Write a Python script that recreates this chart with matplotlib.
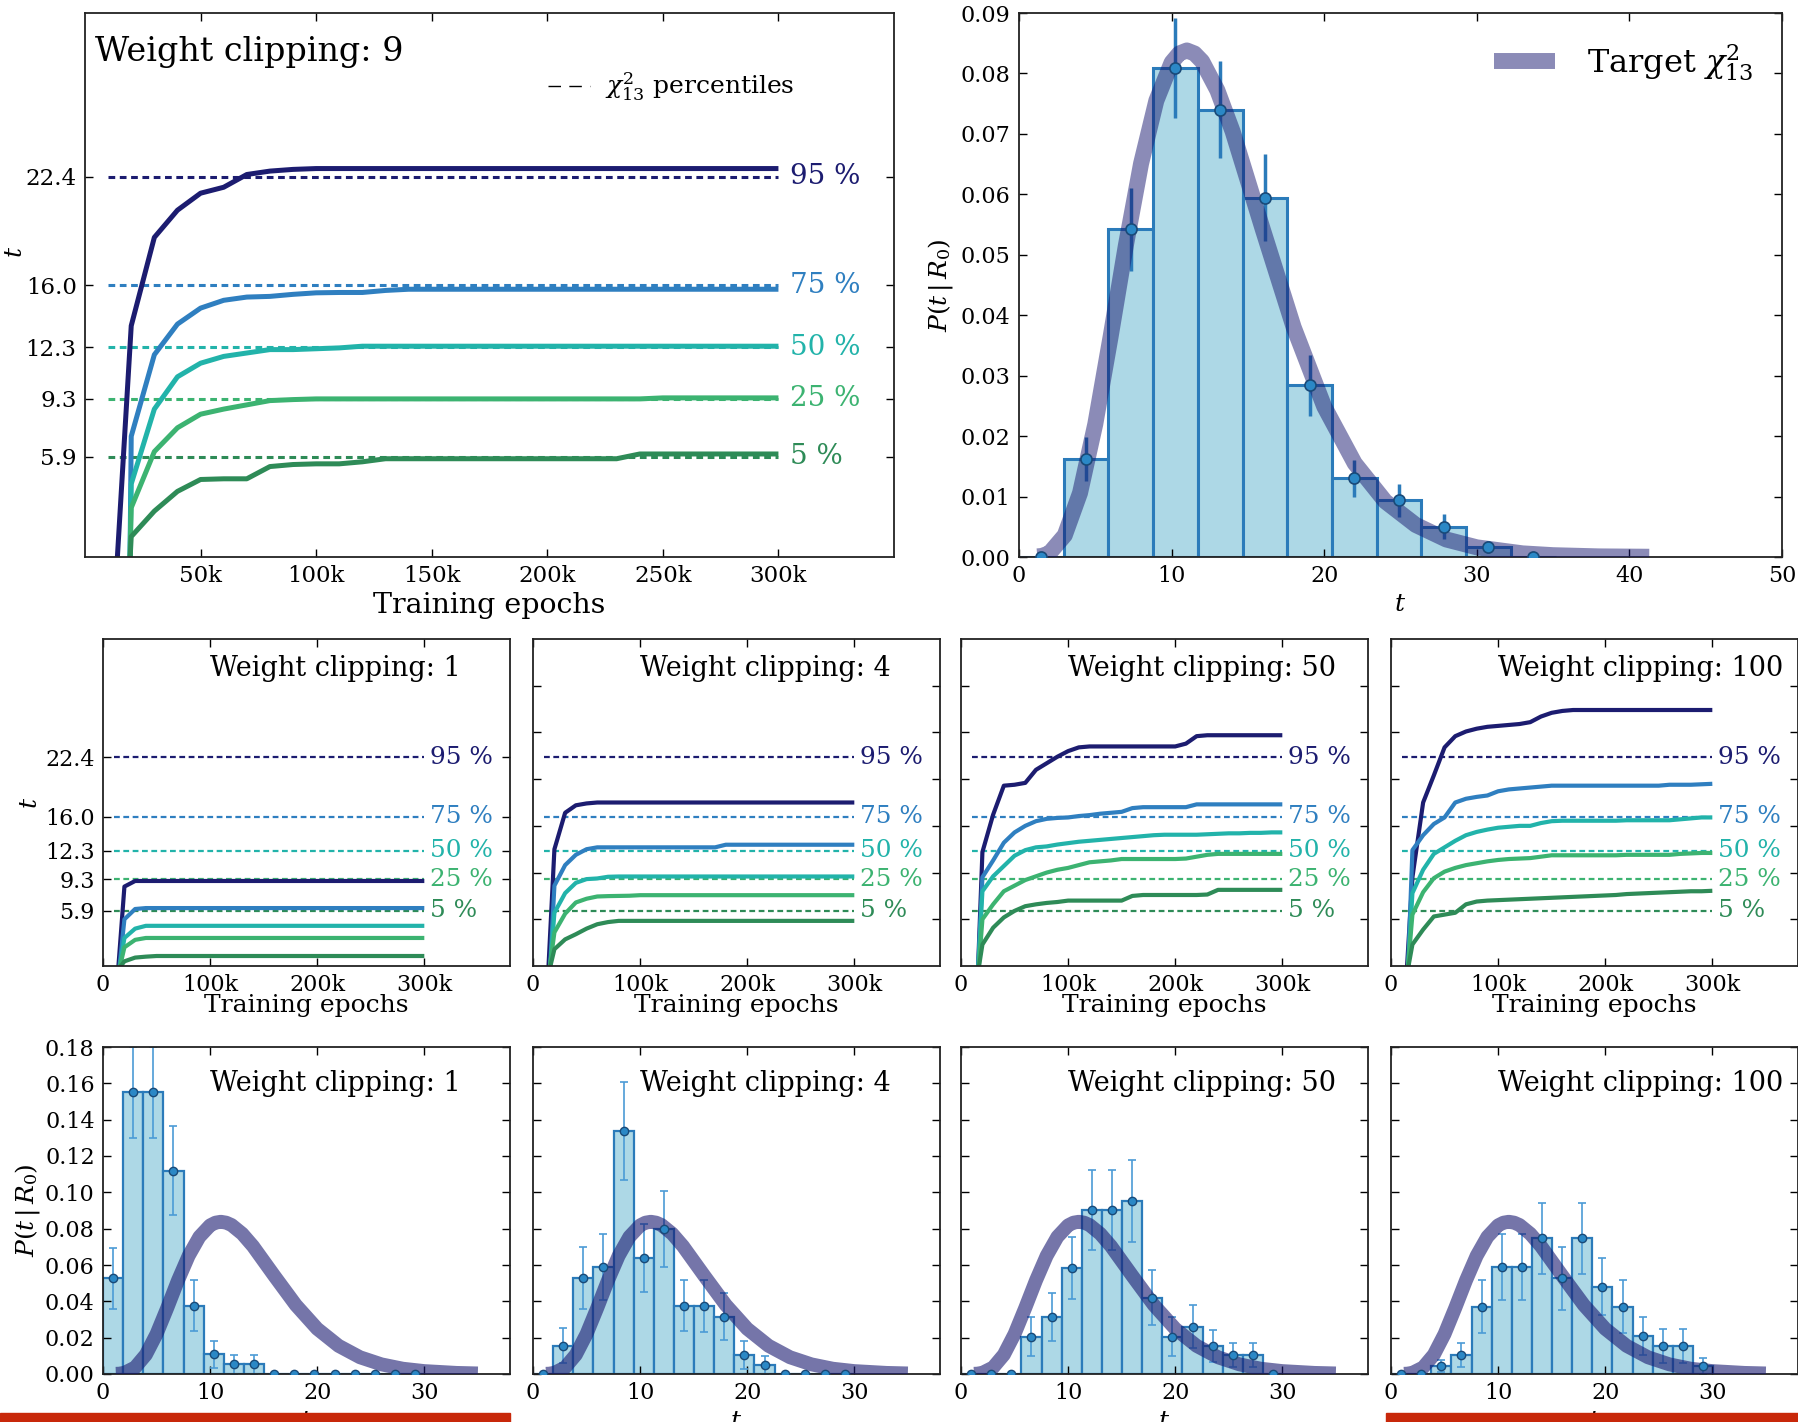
import matplotlib
matplotlib.use('Agg')
import matplotlib.pyplot as plt
from matplotlib.patches import Rectangle

plt.rcParams['font.family'] = ['DejaVu Serif']
plt.rcParams['mathtext.fontset'] = 'dejavuserif'

##### percentile evolution data (t values at each epoch, epochs in thousands) #####
EPOCHS_K = [10, 20, 30, 40, 50, 60, 70, 80, 90, 100, 110, 120, 130, 140, 150,
            160, 170, 180, 190, 200, 210, 220, 230, 240, 250, 260, 270, 280, 290, 300]

PCT_NAMES = ['95 %', '75 %', '50 %', '25 %', '5 %']
PCT_VALUES = [22.36, 15.98, 12.34, 9.30, 5.89]  # chi2_13 percentiles
PCT_COLORS = ['#1c1c70', '#2f7fc0', '#22b3aa', '#3cb371', '#2e8b57']

# weight clipping 9 (big panel)
wc9_p95 = [-9.1, 13.6, 18.8, 20.4, 21.4, 21.75, 22.5, 22.7, 22.8, 22.85, 22.85, 22.85, 22.85, 22.85, 22.85,
           22.85, 22.85, 22.85, 22.85, 22.85, 22.85, 22.85, 22.85, 22.85, 22.85, 22.85, 22.85, 22.85, 22.85, 22.85]
wc9_p75 = [-130, 7.1, 11.9, 13.7, 14.64, 15.1, 15.29, 15.33, 15.45, 15.54, 15.56, 15.56, 15.68, 15.75, 15.75,
           15.75, 15.75, 15.75, 15.75, 15.75, 15.75, 15.75, 15.75, 15.75, 15.75, 15.75, 15.75, 15.75, 15.75, 15.75]
wc9_p50 = [-80, 4.3, 8.7, 10.6, 11.4, 11.8, 12.0, 12.2, 12.2, 12.25, 12.3, 12.4, 12.4, 12.4, 12.4,
           12.4, 12.4, 12.4, 12.4, 12.4, 12.4, 12.4, 12.4, 12.4, 12.4, 12.4, 12.4, 12.4, 12.4, 12.4]
wc9_p25 = [-55, 2.9, 6.2, 7.6, 8.4, 8.7, 8.95, 9.2, 9.26, 9.3, 9.3, 9.3, 9.3, 9.3, 9.3,
           9.3, 9.3, 9.3, 9.3, 9.3, 9.3, 9.3, 9.3, 9.3, 9.36, 9.36, 9.36, 9.36, 9.36, 9.36]
wc9_p5 = [-25, 1.2, 2.7, 3.86, 4.56, 4.6, 4.6, 5.32, 5.44, 5.48, 5.48, 5.6, 5.78, 5.78, 5.78,
          5.78, 5.78, 5.78, 5.78, 5.78, 5.78, 5.78, 5.78, 6.06, 6.06, 6.06, 6.06, 6.06, 6.06, 6.06]

# weight clipping 1
wc1_p95 = [-6.7, 8.5, 9.1, 9.1, 9.1, 9.1, 9.1, 9.1, 9.1, 9.1, 9.1, 9.1, 9.1, 9.1, 9.1,
           9.1, 9.1, 9.1, 9.1, 9.1, 9.1, 9.1, 9.1, 9.1, 9.1, 9.1, 9.1, 9.1, 9.1, 9.1]
wc1_p75 = [-6, 5.0, 6.1, 6.2, 6.2, 6.2, 6.2, 6.2, 6.2, 6.2, 6.2, 6.2, 6.2, 6.2, 6.2,
           6.2, 6.2, 6.2, 6.2, 6.2, 6.2, 6.2, 6.2, 6.2, 6.2, 6.2, 6.2, 6.2, 6.2, 6.2]
wc1_p50 = [-4, 3.0, 4.0, 4.3, 4.3, 4.3, 4.3, 4.3, 4.3, 4.3, 4.3, 4.3, 4.3, 4.3, 4.3,
           4.3, 4.3, 4.3, 4.3, 4.3, 4.3, 4.3, 4.3, 4.3, 4.3, 4.3, 4.3, 4.3, 4.3, 4.3]
wc1_p25 = [-3, 2.0, 2.8, 3.0, 3.0, 3.0, 3.0, 3.0, 3.0, 3.0, 3.0, 3.0, 3.0, 3.0, 3.0,
           3.0, 3.0, 3.0, 3.0, 3.0, 3.0, 3.0, 3.0, 3.0, 3.0, 3.0, 3.0, 3.0, 3.0, 3.0]
wc1_p5 = [-1, 0.5, 0.9, 1.0, 1.07, 1.07, 1.07, 1.07, 1.07, 1.07, 1.07, 1.07, 1.07, 1.07, 1.07,
          1.07, 1.07, 1.07, 1.07, 1.07, 1.07, 1.07, 1.07, 1.07, 1.07, 1.07, 1.07, 1.07, 1.07, 1.07]

# weight clipping 4
wc4_p95 = [-10.2, 12.5, 16.4, 17.2, 17.4, 17.5, 17.5, 17.5, 17.5, 17.5, 17.5, 17.5, 17.5, 17.5, 17.5,
           17.5, 17.5, 17.5, 17.5, 17.5, 17.5, 17.5, 17.5, 17.5, 17.5, 17.5, 17.5, 17.5, 17.5, 17.5]
wc4_p75 = [-13, 8.6, 10.8, 11.9, 12.5, 12.7, 12.7, 12.7, 12.7, 12.7, 12.7, 12.7, 12.7, 12.7, 12.7,
           12.7, 12.7, 12.98, 12.98, 12.98, 12.98, 12.98, 12.98, 12.98, 12.98, 12.98, 12.98, 12.98, 12.98, 12.98]
wc4_p50 = [-9, 5.7, 7.8, 8.9, 9.3, 9.37, 9.55, 9.58, 9.58, 9.58, 9.58, 9.58, 9.58, 9.58, 9.58,
           9.58, 9.58, 9.58, 9.58, 9.58, 9.58, 9.58, 9.58, 9.58, 9.58, 9.58, 9.58, 9.58, 9.58, 9.58]
wc4_p25 = [-5, 3.6, 5.6, 6.8, 7.2, 7.44, 7.48, 7.5, 7.52, 7.58, 7.58, 7.58, 7.58, 7.58, 7.58,
           7.58, 7.58, 7.58, 7.58, 7.58, 7.58, 7.58, 7.58, 7.58, 7.58, 7.58, 7.58, 7.58, 7.58, 7.58]
wc4_p5 = [-3, 1.8, 2.85, 3.4, 4.0, 4.47, 4.7, 4.83, 4.83, 4.83, 4.83, 4.83, 4.83, 4.83, 4.83,
          4.83, 4.83, 4.83, 4.83, 4.83, 4.83, 4.83, 4.83, 4.83, 4.83, 4.83, 4.83, 4.83, 4.83, 4.83]

# weight clipping 50
wc50_p95 = [-18.3, 12.2, 16.2, 19.3, 19.4, 19.6, 21.0, 21.7, 22.4, 23.0, 23.4, 23.5, 23.5, 23.5, 23.5,
            23.5, 23.5, 23.5, 23.5, 23.5, 23.8, 24.6, 24.7, 24.7, 24.7, 24.7, 24.7, 24.7, 24.7, 24.7]
wc50_p75 = [-15, 9.5, 11.3, 13.2, 14.3, 15.0, 15.5, 15.75, 15.85, 15.9, 16.05, 16.15, 16.3, 16.4, 16.5,
            16.9, 17.0, 17.0, 17.0, 17.0, 17.0, 17.3, 17.3, 17.3, 17.3, 17.3, 17.3, 17.3, 17.3, 17.3]
wc50_p50 = [-13, 8.0, 9.6, 10.7, 11.8, 12.4, 12.7, 12.8, 13.0, 13.15, 13.3, 13.4, 13.5, 13.6, 13.7,
            13.8, 13.9, 14.0, 14.05, 14.05, 14.05, 14.05, 14.1, 14.15, 14.2, 14.2, 14.25, 14.25, 14.3, 14.3]
wc50_p25 = [-10, 5.0, 6.6, 8.0, 8.6, 9.2, 9.6, 10.0, 10.3, 10.5, 10.8, 11.1, 11.2, 11.3, 11.45,
            11.45, 11.45, 11.45, 11.45, 11.45, 11.5, 11.7, 11.9, 12.0, 12.0, 12.0, 12.0, 12.0, 12.0, 12.0]
wc50_p5 = [-5, 2.3, 4.1, 5.2, 5.9, 6.4, 6.6, 6.75, 6.85, 7.0, 7.0, 7.0, 7.0, 7.0, 7.0,
           7.5, 7.6, 7.6, 7.6, 7.6, 7.6, 7.6, 7.65, 8.15, 8.15, 8.15, 8.15, 8.15, 8.15, 8.15]

# weight clipping 100
wc100_p95 = [-9.5, 9.5, 17.5, 20.4, 23.4, 24.6, 25.1, 25.4, 25.6, 25.7, 25.8, 25.9, 26.1, 26.7, 27.1,
             27.3, 27.4, 27.4, 27.4, 27.4, 27.4, 27.4, 27.4, 27.4, 27.4, 27.4, 27.4, 27.4, 27.4, 27.4]
wc100_p75 = [-18.6, 12.4, 14.0, 15.2, 15.9, 17.5, 17.9, 18.1, 18.25, 18.7, 18.9, 19.0, 19.1, 19.2, 19.3,
             19.3, 19.3, 19.3, 19.3, 19.3, 19.3, 19.3, 19.3, 19.3, 19.3, 19.4, 19.4, 19.4, 19.45, 19.5]
wc100_p50 = [-12, 7.8, 10.3, 12.0, 12.7, 13.4, 14.0, 14.35, 14.6, 14.8, 14.9, 15.0, 15.0, 15.3, 15.5,
             15.55, 15.55, 15.55, 15.55, 15.55, 15.55, 15.6, 15.6, 15.6, 15.6, 15.6, 15.7, 15.8, 15.9, 15.9]
wc100_p25 = [-8, 5.5, 7.9, 9.4, 10.1, 10.5, 10.8, 11.0, 11.2, 11.35, 11.45, 11.5, 11.55, 11.7, 11.85,
             11.85, 11.85, 11.85, 11.85, 11.85, 11.85, 11.9, 11.9, 11.9, 11.9, 11.9, 12.0, 12.05, 12.1, 12.1]
wc100_p5 = [-4, 2.3, 3.9, 5.3, 5.5, 5.7, 6.6, 6.9, 7.0, 7.05, 7.1, 7.15, 7.2, 7.25, 7.3,
            7.35, 7.4, 7.45, 7.5, 7.55, 7.6, 7.7, 7.75, 7.8, 7.85, 7.9, 7.95, 8.0, 8.0, 8.05]

##### histogram data #####
TR_EDGES = [0.0, 2.93, 5.86, 8.79, 11.72, 14.65, 17.58, 20.51, 23.44, 26.37, 29.30, 32.23, 35.16]
tr_vals = [0.0, 0.0162, 0.0542, 0.0809, 0.0740, 0.0594, 0.0284, 0.0130, 0.0094, 0.0050, 0.0017, 0.0]
tr_errs = [0.0, 0.0037, 0.0069, 0.0083, 0.0080, 0.0072, 0.0050, 0.0031, 0.0027, 0.0021, 0.0010, 0.0]

BOT_EDGES = [0.0, 1.88, 3.76, 5.64, 7.52, 9.40, 11.28, 13.16, 15.04, 16.92, 18.80,
             20.68, 22.56, 24.44, 26.32, 28.20, 30.08]
h_wc1 = [0.0527, 0.155, 0.155, 0.1119, 0.0375, 0.0108, 0.0053, 0.0053, 0, 0, 0, 0, 0, 0, 0, 0]
e_wc1 = [0.0168, 0.025, 0.025, 0.0245, 0.014, 0.0075, 0.0052, 0.0052, 0, 0, 0, 0, 0, 0, 0, 0]
h_wc4 = [0, 0.0156, 0.053, 0.0588, 0.134, 0.0637, 0.0799, 0.0375, 0.0375, 0.0316, 0.0105, 0.005, 0, 0, 0, 0]
e_wc4 = [0, 0.0095, 0.017, 0.018, 0.027, 0.0186, 0.021, 0.014, 0.0145, 0.0128, 0.0075, 0.0048, 0, 0, 0, 0]
h_wc50 = [0, 0, 0, 0.0206, 0.0312, 0.0582, 0.0902, 0.0902, 0.0953, 0.042, 0.0206, 0.0261, 0.0154, 0.0105, 0.0105, 0]
e_wc50 = [0, 0, 0, 0.0107, 0.0133, 0.017, 0.022, 0.022, 0.0227, 0.0152, 0.0107, 0.0118, 0.0088, 0.0068, 0.0068, 0]
h_wc100 = [0, 0, 0.0044, 0.0105, 0.037, 0.0588, 0.0588, 0.0748, 0.0527, 0.0748, 0.0481, 0.037, 0.021, 0.0154, 0.0154, 0.0044]
e_wc100 = [0, 0, 0.0032, 0.0068, 0.0145, 0.018, 0.018, 0.0195, 0.0174, 0.0195, 0.0156, 0.0145, 0.0106, 0.0095, 0.0095, 0.0046]

# target chi2_13 density
CHI2_T = [1.2, 1.5, 2, 3, 4, 5, 6, 7, 8, 9, 10, 10.5, 11, 11.5, 12, 13, 14, 16, 18, 20,
          22, 24, 26, 28, 30, 33, 35, 38, 41.3]
CHI2_P = [0.0001, 0.00017, 0.00064, 0.0036, 0.0106, 0.022, 0.0364, 0.0515, 0.0651, 0.0755, 0.0818,
          0.0833, 0.0838, 0.0833, 0.0820, 0.0772, 0.0704, 0.0540, 0.0380, 0.0249,
          0.0155, 0.0092, 0.0053, 0.0029, 0.0016, 0.0006, 0.0003, 0.0001, 0.00004]

W, H = 1799.0, 1422.0
BAR_FACE = '#add8e6'
BAR_EDGE = '#2b7bba'
CURVE_COL = '#191970'


def box(left, top, right, bottom):  # pixel box -> figure fraction
    return [left / W, 1 - bottom / H, (right - left) / W, (bottom - top) / H]


def style(ax, size=16):
    ax.tick_params(direction='in', top=True, right=True, length=6, width=1,
                   labelsize=size, pad=6)
    for s in ax.spines.values():
        s.set_linewidth(1.3)
        s.set_color('#222222')


def percentile_panel(ax, curves, lw, dash_lw, dashes, lab_size):
    for vals, pv, col, name in zip(curves, PCT_VALUES, PCT_COLORS, PCT_NAMES):
        ax.plot([10, 300], [pv, pv], color=col, lw=dash_lw, ls=(0, dashes), zorder=1)
        ax.plot(EPOCHS_K, vals, color=col, lw=lw, zorder=2, solid_capstyle='butt')
        ax.text(305, pv, name, color=col, fontsize=lab_size, va='center', ha='left')


def hist_panel(ax, edges, vals, errs, big=False):
    widths = [edges[i + 1] - edges[i] for i in range(len(vals))]
    centers = [edges[i] + widths[i] / 2 for i in range(len(vals))]
    ax.bar(edges[:-1], vals, width=widths, align='edge', color=BAR_FACE,
           edgecolor=BAR_EDGE, linewidth=2.2 if big else 1.6, zorder=1)
    if big:
        ax.errorbar(centers, vals, yerr=errs, fmt='none', ecolor=BAR_EDGE,
                    elinewidth=2.5, capsize=0, zorder=2)
        ax.plot(CHI2_T, CHI2_P, color=CURVE_COL, alpha=0.5, lw=11.5,
                solid_capstyle='butt', zorder=3, label=r'Target $\chi^2_{13}$')
        ax.plot(centers, vals, 'o', ms=8, mfc='#2b88c6', mec='#1a4a78', mew=1.2, zorder=4)
    else:
        ax.errorbar(centers, vals, yerr=errs, fmt='none', ecolor='#4b9bd6',
                    elinewidth=1.2, capsize=3, capthick=1.2, zorder=2)
        t_sub = [t for t in CHI2_T if t <= 35]
        p_sub = CHI2_P[:len(t_sub)]
        ax.plot(t_sub, p_sub, color=CURVE_COL, alpha=0.6, lw=10,
                solid_capstyle='butt', zorder=3)
        ax.plot(centers, vals, 'o', ms=6, mfc='#2b88c6', mec='#1a4a78', mew=1, zorder=4)


fig = plt.figure(figsize=(W / 100, H / 100), dpi=100)

##### big percentile panel #####
ax = fig.add_axes(box(85, 13, 894, 557))
style(ax, 16.5)
percentile_panel(ax, [wc9_p95, wc9_p75, wc9_p50, wc9_p25, wc9_p5], 3.6, 2.2, (2.2, 1.5), 20)
ax.plot([], [], color='k', lw=1, ls=(0, (9, 6)), label=r'$\chi^2_{13}$ percentiles')
ax.legend(loc='upper right', bbox_to_anchor=(0.905, 0.935), frameon=False, fontsize=18,
          handlelength=1.7, handletextpad=0.6)
ax.set_xlim(0, 350)
ax.set_ylim(0, 32)
ax.set_xticks([50, 100, 150, 200, 250, 300])
ax.set_xticklabels(['50k', '100k', '150k', '200k', '250k', '300k'])
ax.set_yticks(PCT_VALUES[::-1])
ax.set_yticklabels(['%.1f' % v for v in PCT_VALUES[::-1]])
ax.set_xlabel('Training epochs', fontsize=20.5, labelpad=3)
ax.set_ylabel('$t$', fontsize=18, rotation=90)
ax.yaxis.set_label_coords(-0.072, 0.56)
ax.text(0.012, 0.928, 'Weight clipping: 9', transform=ax.transAxes, fontsize=24,
        va='center', ha='left')

##### big histogram panel #####
ax = fig.add_axes(box(1019, 13, 1782, 557))
style(ax)
hist_panel(ax, TR_EDGES, tr_vals, tr_errs, big=True)
ax.set_xlim(0, 50)
ax.set_ylim(0, 0.09)
ax.set_yticks([0.0, 0.01, 0.02, 0.03, 0.04, 0.05, 0.06, 0.07, 0.08, 0.09])
ax.set_yticklabels(['%.2f' % v for v in [0.0, 0.01, 0.02, 0.03, 0.04, 0.05, 0.06, 0.07, 0.08, 0.09]])
ax.set_xticks([0, 10, 20, 30, 40, 50])
ax.set_xlabel('$t$', fontsize=18, labelpad=4)
ax.set_ylabel(r'$P(t\,|\,R_0)$', fontsize=18, labelpad=4)
ax.legend(loc='upper right', frameon=False, fontsize=23, handlelength=1.9, handletextpad=1.0)

##### small panels #####
lefts = [103, 533, 961, 1391]
titles = ['Weight clipping: 1', 'Weight clipping: 4', 'Weight clipping: 50', 'Weight clipping: 100']
mid_curves = [
    [wc1_p95, wc1_p75, wc1_p50, wc1_p25, wc1_p5],
    [wc4_p95, wc4_p75, wc4_p50, wc4_p25, wc4_p5],
    [wc50_p95, wc50_p75, wc50_p50, wc50_p25, wc50_p5],
    [wc100_p95, wc100_p75, wc100_p50, wc100_p25, wc100_p5],
]
bot_hists = [(h_wc1, e_wc1), (h_wc4, e_wc4), (h_wc50, e_wc50), (h_wc100, e_wc100)]

for i in range(4):
    l = lefts[i]
    # percentile evolution
    ax = fig.add_axes(box(l, 639, l + 407, 966))
    style(ax)
    percentile_panel(ax, mid_curves[i], 3.0, 1.6, (2.6, 1.6), 17.8)
    ax.set_xlim(0, 380)
    ax.set_ylim(0, 35)
    ax.set_xticks([0, 100, 200, 300])
    ax.set_xticklabels(['0', '100k', '200k', '300k'])
    ax.set_xlabel('Training epochs', fontsize=18, labelpad=-2)
    if i == 0:
        ax.set_yticks(PCT_VALUES[::-1])
        ax.set_yticklabels(['%.1f' % v for v in PCT_VALUES[::-1]])
        ax.set_ylabel('$t$', fontsize=18, labelpad=2)
    else:
        ax.set_yticks([5, 10, 15, 20, 25, 30])
        ax.set_yticklabels([])
    ax.text(0.263, 0.91, titles[i], transform=ax.transAxes, fontsize=19.5, va='center', ha='left')

    # histogram
    ax = fig.add_axes(box(l, 1047, l + 407, 1374))
    style(ax)
    hist_panel(ax, BOT_EDGES, bot_hists[i][0], bot_hists[i][1])
    ax.set_xlim(0, 38)
    ax.set_ylim(0, 0.18)
    ax.set_xticks([0, 10, 20, 30])
    ax.set_yticks([0.0, 0.02, 0.04, 0.06, 0.08, 0.10, 0.12, 0.14, 0.16, 0.18])
    if i == 0:
        ax.set_yticklabels(['%.2f' % v for v in [0.0, 0.02, 0.04, 0.06, 0.08, 0.10, 0.12, 0.14, 0.16, 0.18]])
        ax.set_ylabel(r'$P(t\,|\,R_0)$', fontsize=18, labelpad=2)
    else:
        ax.set_yticklabels([])
    ax.set_xlabel('$t$', fontsize=18, labelpad=4)
    ax.text(0.263, 0.887, titles[i], transform=ax.transAxes, fontsize=19.5, va='center', ha='left')

# red marker bars along the lower edge
fig.patches.append(Rectangle((0, 0), 510 / W, 9 / H, transform=fig.transFigure,
                             color='#c8280a', zorder=10))
fig.patches.append(Rectangle((1386 / W, 0), (W - 1386) / W, 9 / H, transform=fig.transFigure,
                             color='#c8280a', zorder=10))

fig.savefig('out.png', dpi=100)
